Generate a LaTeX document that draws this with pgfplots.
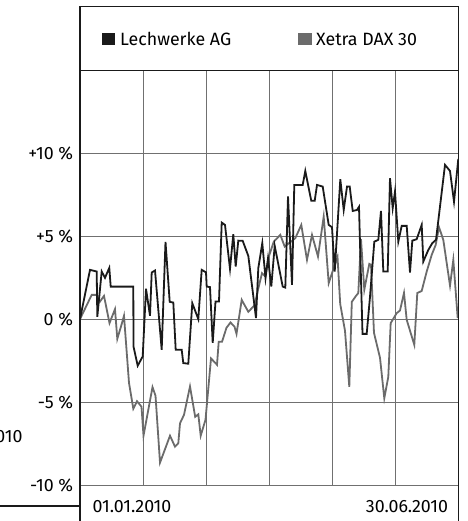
\documentclass[border=0pt]{standalone}
\usepackage{pgfplots}
\pgfplotsset{compat=1.18}
\usepackage{fontspec}
\setmainfont{Fira Sans}
\definecolor{lwblack}{HTML}{1A1A1A}
\definecolor{daxgray}{HTML}{6B6B6B}
\definecolor{gridgray}{HTML}{707070}
\newcommand{\lbl}{\fontsize{17.8}{20}\selectfont}
\begin{document}
\begin{tikzpicture}[x=1pt,y=1pt]
\begin{axis}[
  at={(80pt,36pt)}, anchor=south west,
  width=378.5pt, height=414.7pt, scale only axis,
  xmin=0, xmax=180, ymin=-10, ymax=15,
  xtick={0,30,60,90,120,150,180}, xticklabels={},
  ytick={-10,-5,0,5,10},
  yticklabels={-10 \%,-5 \%,0 \%,+5 \%,+10 \%},
  major tick length=0pt,
  axis line style={draw=none},
  grid=major,
  major grid style={draw=gridgray, line width=0.9pt},
  yticklabel style={font=\lbl, anchor=east, inner sep=0pt, xshift=-6.7pt},
  clip=true,
]
\addplot[color=daxgray, line width=1.8pt] coordinates {
(0,0) (5.56,1.46) (7.94,1.46) (9.51,1.06) (11.41,1.40) (14.03,-0.24) (16.64,0.60)
(17.74,-1.19) (19.74,-0.34) (20.92,0.20) (23.30,-3.84) (25.35,-5.40) (27.11,-4.95)
(29.25,-5.28) (30.20,-7.03) (34.48,-4.10) (35.91,-4.62) (38.05,-8.65) (40.52,-7.81)
(42.80,-7.03) (45.18,-7.69) (46.75,-7.48) (47.56,-6.28) (49.46,-5.77) (52.31,-4.06)
(54.78,-5.89) (56.26,-5.74) (57.40,-7.03) (59.68,-6.07) (62.30,-2.37) (65.15,-2.75)
(65.96,-1.37) (67.53,-1.37) (69.67,-0.52) (71.57,-0.20) (73.48,-0.46) (74.43,-0.89)
(76.90,1.16) (80.04,0.44) (82.99,0.83) (84.65,1.77) (86.55,2.77) (88.12,2.57)
(89.74,3.75) (92.12,4.66) (95.26,5.08) (97.35,4.37) (102.39,4.88) (105.24,5.68)
(107.95,3.57) (110.33,5.08) (113.18,3.77) (115.89,6.18) (118.27,2.17) (120.55,3.03)
(122.46,3.75) (123.74,0.92) (126.02,-0.70) (128.07,-4.08) (129.26,1.04) (131.25,1.40)
(132.35,1.57) (133.63,4.82) (135.20,1.77) (137.58,3.33) (138.39,3.27) (139.81,-0.83)
(142.67,-2.33) (144.71,-4.77) (146.61,-3.48) (147.75,-0.24) (150.61,0.36) (152.18,0.52)
(154.08,1.58) (155.36,-0.04) (158.98,-1.55) (160.40,1.57) (162.50,1.70) (164.88,2.87)
(167.25,3.87) (169.16,4.48) (170.73,5.54) (172.77,4.78) (175.96,2.02) (177.53,3.57)
(179.62,0.06)
};
\addplot[color=lwblack, line width=1.8pt] coordinates {
(0,0) (4.76,2.97) (7.94,2.87) (8.23,0.14) (10.32,2.87) (11.89,2.49) (13.93,3.09)
(14.60,1.96) (25.35,1.96) (25.44,-1.65) (27.44,-2.81) (29.82,-2.25) (31.39,1.83)
(33.29,0.20) (34.10,2.81) (35.67,2.93) (38.85,-1.85) (40.66,4.66) (42.66,1.04)
(44.37,1.00) (45.51,-1.85) (48.36,-1.85) (49.12,-2.65) (51.50,-2.69) (53.40,0.96)
(56.26,0) (57.87,2.97) (59.92,2.82) (60.25,1.96) (61.82,1.93) (63.11,-1.43)
(64.44,1.06) (66.10,1.06) (67.39,5.82) (68.96,5.68) (71.33,3.03) (72.90,5.12)
(74.04,3.17) (75.28,4.73) (77.37,4.72) (80.04,3.81) (81.65,2.17) (83.70,0.06)
(84.79,3.07) (86.69,4.58) (88.22,2.47) (89.41,3.67) (90.97,1.96) (92.59,4.42)
(96.40,1.96) (97.63,1.90) (98.92,7.39) (100.82,2.07) (101.91,8.09) (105.91,8.09)
(107.14,8.93) (109.99,7.13) (111.61,7.13) (112.71,8.09) (115.42,7.99) (118.27,5.68)
(119.84,5.54) (121.13,2.87) (123.79,8.43) (125.41,6.58) (126.98,7.99) (128.26,7.99)
(129.69,6.52) (131.73,6.58) (132.68,6.77) (134.35,-0.89) (136.34,-0.89) (137.91,1.34)
(139.96,4.67) (141.86,4.78) (143.14,6.52) (144.24,2.87) (146.33,2.87) (147.42,8.49)
(148.71,6.69) (149.80,7.69) (151.37,4.67) (152.99,5.62) (155.37,5.62) (156.93,2.81)
(158.03,4.73) (160.12,4.82) (162.50,5.68) (163.26,3.47) (165.64,4.17) (167.54,4.58)
(169.30,4.78) (173.58,9.30) (175.96,8.93) (177.86,7.08) (179.91,9.66)
};
\end{axis}
% frame
\draw[lwblack, line width=1.4pt] (80,0) -- (80,514.3) -- (458.3,514.3) -- (458.3,0);
\draw[lwblack, line width=1.4pt] (80,450.7) -- (458.3,450.7);
\draw[lwblack, line width=1.2pt] (0,15) -- (80,15);
% legend
\fill[lwblack] (101.7,476) rectangle (115,488.3);
\node[anchor=west, inner sep=0pt, font=\lbl] at (120,482) {Lechwerke AG};
\fill[daxgray] (298.3,476) rectangle (311.7,488.3);
\node[anchor=west, inner sep=0pt, font=\lbl] at (316,482) {Xetra DAX 30};
% date labels
\node[anchor=west, inner sep=0pt, font=\lbl] at (92.5,14.3) {01.01.2010};
\node[anchor=east, inner sep=0pt, font=\lbl] at (448.3,14.3) {30.06.2010};
\node[anchor=east, inner sep=0pt, font=\lbl] at (22.7,84.3) {2010};
\pgfresetboundingbox
\useasboundingbox (0,0) rectangle (467,521);
\end{tikzpicture}
\end{document}
